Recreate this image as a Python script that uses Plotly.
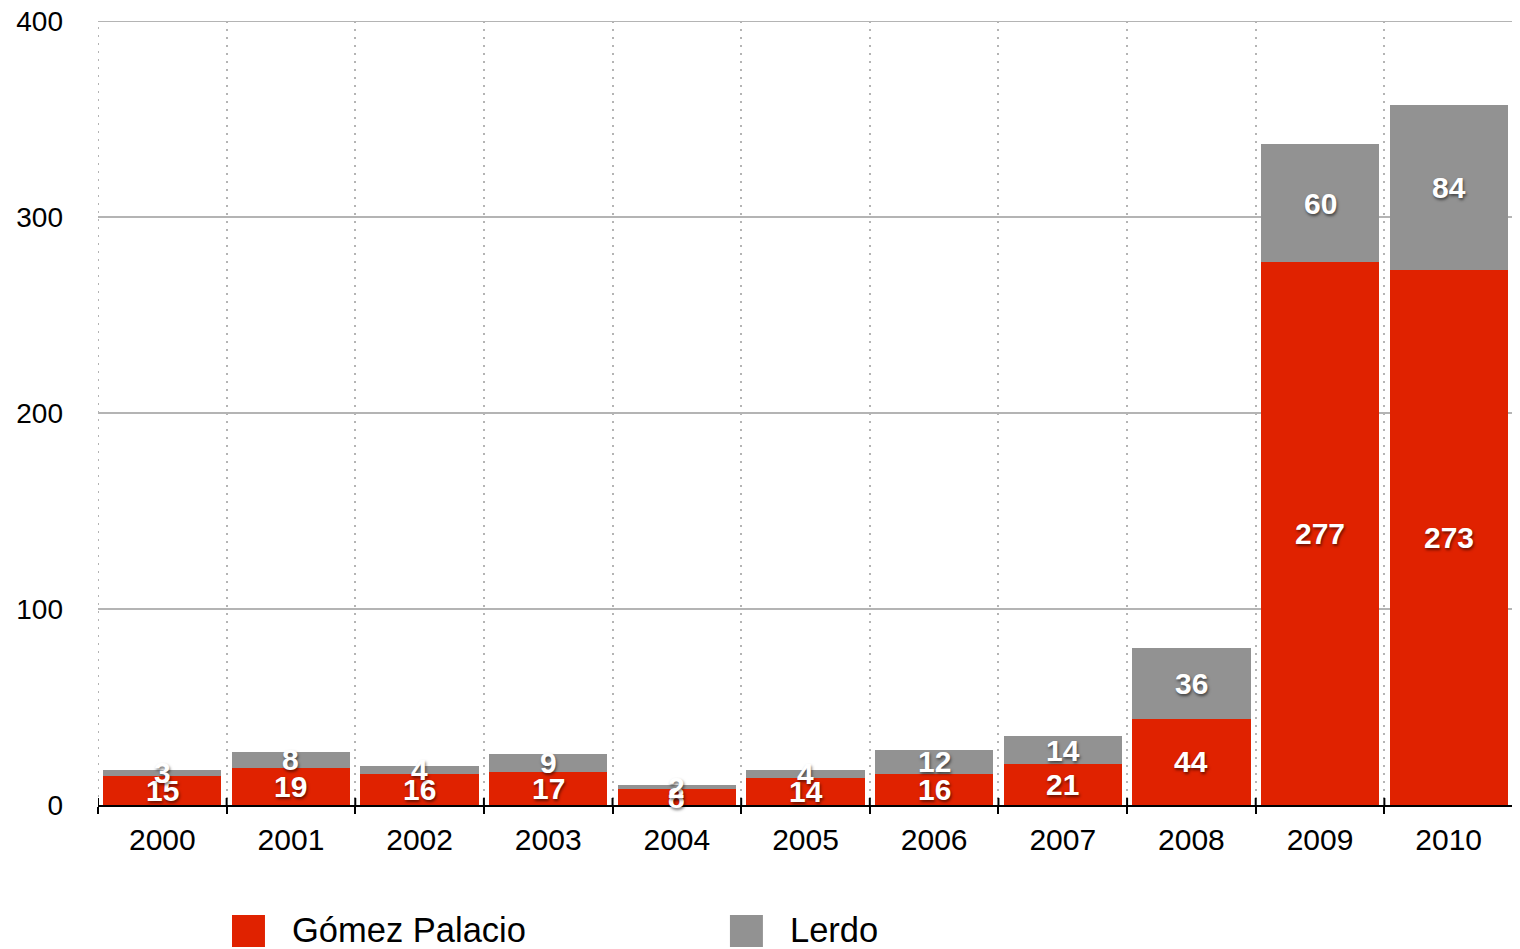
import plotly.graph_objects as go

years = ["2000", "2001", "2002", "2003", "2004", "2005", "2006", "2007", "2008", "2009", "2010"]
gomez = [15, 19, 16, 17, 8, 14, 16, 21, 44, 277, 273]
lerdo = [3, 8, 4, 9, 2, 4, 12, 14, 36, 60, 84]
series_names = ["Gómez Palacio", "Lerdo"]
y_ticks = [0, 100, 200, 300, 400]

RED = "#E02200"
GRAY = "#929292"
GRID_V = "#b4b4b4"
GRID_H = "#b4b4b4"
FONT = "Liberation Sans, Arial, Helvetica, sans-serif"

fig = go.Figure()
fig.add_trace(go.Bar(x=years, y=gomez, name=series_names[0], marker=dict(color=RED, line=dict(width=0)), showlegend=False))
fig.add_trace(go.Bar(x=years, y=lerdo, name=series_names[1], marker=dict(color=GRAY, line=dict(width=0)), showlegend=False))

annotations = []
shadow = "1px 2px 3px rgba(0,0,0,0.55)"
for i, (g, l) in enumerate(zip(gomez, lerdo)):
    annotations.append(dict(x=i, y=g / 2, text=f"<b>{g}</b>", showarrow=False, xref="x", yref="y",
                            font=dict(family=FONT, size=30, color="white", shadow=shadow)))
    annotations.append(dict(x=i, y=g + l / 2, text=f"<b>{l}</b>", showarrow=False, xref="x", yref="y",
                            font=dict(family=FONT, size=30, color="white", shadow=shadow)))

shapes = []
# dotted gridlines at the outer boundaries (plotly skips them at the plot edges)
for xb in (-0.5, len(years) - 0.5):
    shapes.append(dict(type="line", xref="x", yref="paper", x0=xb, x1=xb, y0=0, y1=1, layer="below",
                       line=dict(color=GRID_V, width=2, dash="2px,6px")))
# top horizontal gridline (at the plot edge)
shapes.append(dict(type="line", xref="paper", yref="y", x0=0, x1=1, y0=y_ticks[-1], y1=y_ticks[-1], layer="below",
                   line=dict(color=GRID_H, width=2)))
# upward tick marks at category boundaries
for i in range(len(years) + 1):
    shapes.append(dict(type="line", xref="x", yref="paper", x0=i - 0.5, x1=i - 0.5, y0=0, y1=0.009,
                       line=dict(color="black", width=2)))

# manual legend
legend_items = [(series_names[0], RED, 0.0947), (series_names[1], GRAY, 0.4466)]
for name, col, px in legend_items:
    shapes.append(dict(type="rect", xref="paper", yref="paper", x0=px, x1=px + 0.0233,
                       y0=-0.1811, y1=-0.1403, fillcolor=col, line=dict(width=0)))
    annotations.append(dict(x=px + 0.041, y=-0.1594, xref="paper", yref="paper", text=name, showarrow=False,
                            xanchor="left", yanchor="middle", font=dict(family=FONT, size=34.5, color="black")))

fig.update_layout(
    barmode="stack",
    bargap=0.08,
    width=1512, height=941,
    margin=dict(l=90, r=7, t=13, b=144, autoexpand=False),
    plot_bgcolor="white", paper_bgcolor="white",
    font=dict(family=FONT, color="black"),
    annotations=annotations,
    shapes=shapes,
    showlegend=False,
    xaxis=dict(
        type="category", tickson="boundaries", ticks="outside", ticklen=7, tickwidth=2, tickcolor="black",
        showline=True, linecolor="black", linewidth=2,
        showgrid=True, gridcolor=GRID_V, griddash="2px,6px", gridwidth=2,
        tickfont=dict(size=30, family=FONT, color="black"), ticklabelstandoff=7, tickangle=0,
        range=[-0.5, len(years) - 0.5], automargin=False,
    ),
    yaxis=dict(
        range=[0, 400], tickvals=y_ticks, ticks="", showline=False,
        showgrid=True, gridcolor=GRID_H, gridwidth=2, zeroline=False,
        tickfont=dict(size=28, family=FONT, color="black"), ticklabelstandoff=34, automargin=False,
        ticklabeloverflow="allow",
    ),
)

fig.write_html("out.html")
